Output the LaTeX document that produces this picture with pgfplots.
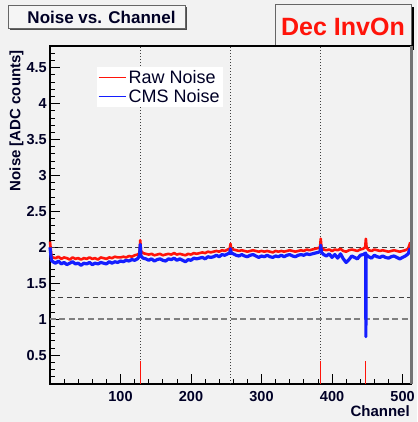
\documentclass[border=0pt]{standalone}
\usepackage{pgfplots}
\pgfplotsset{compat=1.18}
\usepackage{fontspec}
\setmainfont{Liberation Sans}
\definecolor{bgc}{RGB}{242,242,242}
\definecolor{rootred}{RGB}{255,20,10}
\definecolor{rootblue}{RGB}{20,30,255}
\begin{document}
\begin{tikzpicture}
\fill[bgc] (-50pt,-38pt) rectangle (367pt,384pt);
% title box
\fill[black!70] (-40pt,354pt) rectangle (137pt,377pt);
\filldraw[fill=white!96!black,draw=black!60,line width=0.8pt] (-42pt,356pt) rectangle (135pt,379pt);
\node[font=\fontsize{17}{19}\selectfont\bfseries,text=black!85!blue] at (51.5pt,367pt) {Noise vs. Channel};
% Dec InvOn box
\fill[black] (228pt,334pt) rectangle (364pt,377pt);
\filldraw[fill=bgc,draw=black!60,line width=0.8pt] (225pt,337pt) rectangle (361pt,380pt);
\node[font=\fontsize{25}{28}\selectfont\bfseries,text=rootred] at (293pt,357pt) {Dec InvOn};
\begin{axis}[
  at={(0pt,0pt)}, anchor=south west,
  scale only axis, width=361pt, height=338pt,
  xmin=0, xmax=512, ymin=0.1, ymax=4.8,
  clip=false,
  axis background/.style={fill=bgc},
  axis line style={black, line width=1.2pt},
  tick align=inside, xtick pos=left, ytick pos=left,
  xtick={100,200,300,400,500},
  minor xtick={20,40,60,80,120,140,160,180,220,240,260,280,320,340,360,380,420,440,460,480},
  ytick={0.5,1,1.5,2,2.5,3,3.5,4,4.5},
  yticklabels={0.5,1,1.5,2,2.5,3,3.5,4,4.5},
  minor ytick={0.2,0.3,0.4,0.6,0.7,0.8,0.9,1.1,1.2,1.3,1.4,1.6,1.7,1.8,1.9,2.1,2.2,2.3,2.4,2.6,2.7,2.8,2.9,3.1,3.2,3.3,3.4,3.6,3.7,3.8,3.9,4.1,4.2,4.3,4.4,4.6,4.7},
  major tick length=10pt, minor tick length=5pt,
  tick style={black, line width=0.8pt},
  /pgf/number format/assume math mode=true,
  ticklabel style={font=\fontsize{14.5}{16}\selectfont\bfseries, text=black!85!blue},
  xticklabel style={inner sep=0pt, yshift=-7pt},
  yticklabel style={inner sep=0pt, xshift=-3pt},
  xlabel={Channel},
  xlabel style={at={(axis description cs:0.997,-0.097)}, anchor=base east, inner sep=0pt, font=\fontsize{15}{17}\selectfont\bfseries, text=black!85!blue},
  ylabel={Noise [ADC counts]},
  ylabel style={at={(axis description cs:-0.093,0.988)}, anchor=east, inner sep=0pt, font=\fontsize{15}{17}\selectfont\bfseries, text=black!85!blue},
  legend style={at={(0.130,0.938)}, anchor=north west, draw=none, fill=white, inner xsep=1pt, inner ysep=1.5pt,
    font=\fontsize{18}{20}\selectfont, text=black!85!blue, nodes={inner xsep=2.5pt, inner ysep=2pt}},
  legend image code/.code={\draw[#1, line width=1pt] (0pt,0pt) -- (27pt,0pt);},
  legend cell align=left,
]
% grid-like reference lines
\addplot[black!75, line width=0.8pt, dash pattern=on 1pt off 2pt, forget plot] coordinates {(128,0.1) (128,4.8)};
\addplot[black!75, line width=0.8pt, dash pattern=on 1pt off 2pt, forget plot] coordinates {(256,0.1) (256,4.8)};
\addplot[black!75, line width=0.8pt, dash pattern=on 1pt off 2pt, forget plot] coordinates {(384,0.1) (384,4.8)};
\addplot[black!75, line width=0.9pt, dash pattern=on 5pt off 3.5pt, forget plot] coordinates {(0,2) (512,2)};
\addplot[black!75, line width=0.9pt, dash pattern=on 5pt off 3.5pt, forget plot] coordinates {(0,1.3) (512,1.3)};
\addplot[black!50, line width=1.6pt, dash pattern=on 6pt off 3.5pt, forget plot] coordinates {(0,1.0) (512,1.0)};
% red markers at bottom
\addplot[rootred, line width=1pt, forget plot] coordinates {(128,0.1) (128,0.42)};
\addplot[rootred, line width=1pt, forget plot] coordinates {(384,0.1) (384,0.42)};
\addplot[rootred, line width=1pt, forget plot] coordinates {(448,0.1) (448,0.42)};
% Raw noise
\addplot[rootred, line width=2.6pt, line join=round] coordinates {
(0,2.08) (2,1.88) (4,1.86) (8,1.85) (12,1.87) (16,1.84) (20,1.86) (24,1.85) (28,1.83) (32,1.86)
(36,1.84) (40,1.85) (44,1.83) (48,1.85) (52,1.84) (56,1.86) (60,1.84) (64,1.85) (68,1.83) (72,1.86)
(76,1.85) (80,1.84) (84,1.86) (88,1.85) (92,1.87) (96,1.86) (100,1.86) (104,1.87) (108,1.86) (112,1.88)
(116,1.87) (120,1.89) (124,1.90) (127,1.92) (128,2.10) (129,1.95) (132,1.92) (136,1.91) (140,1.90) (144,1.91)
(148,1.89) (152,1.90) (156,1.91) (160,1.89) (164,1.90) (168,1.91) (172,1.90) (176,1.92) (180,1.90) (184,1.91)
(188,1.90) (192,1.89) (196,1.91) (200,1.90) (204,1.92) (208,1.91) (212,1.92) (216,1.93) (220,1.92) (224,1.94)
(228,1.93) (232,1.94) (236,1.95) (240,1.94) (244,1.96) (248,1.95) (252,1.97) (255,1.98) (256,2.05) (257,1.98)
(260,1.97) (264,1.96) (268,1.95) (272,1.96) (276,1.95) (280,1.94) (284,1.95) (288,1.96) (292,1.95) (296,1.94)
(300,1.95) (304,1.94) (308,1.95) (312,1.94) (316,1.93) (320,1.95) (324,1.94) (328,1.95) (332,1.94) (336,1.95)
(340,1.96) (344,1.95) (348,1.94) (352,1.95) (356,1.96) (360,1.95) (364,1.97) (368,1.96) (372,1.97) (376,1.98)
(380,1.99) (383,2.00) (384,2.12) (385,2.00) (388,1.97) (392,1.96) (396,1.97) (400,1.95) (404,1.97) (408,1.96)
(412,1.98) (416,1.95) (420,1.94) (424,1.96) (428,1.97) (432,1.96) (436,1.95) (440,1.97) (444,1.98) (447,2.00)
(448,2.12) (449,2.00) (452,1.96) (456,1.95) (460,1.97) (464,1.96) (468,1.95) (472,1.96) (476,1.95) (480,1.94)
(484,1.95) (488,1.96) (492,1.95) (496,1.94) (500,1.95) (504,1.96) (508,1.98) (511,2.07)
};
\addlegendentry{Raw Noise}
% CMS noise
\addplot[rootblue, line width=3.2pt, line join=round] coordinates {
(0,2.00) (2,1.82) (4,1.80) (8,1.78) (12,1.81) (16,1.77) (20,1.79) (24,1.76) (28,1.78) (32,1.80)
(36,1.77) (40,1.78) (44,1.75) (48,1.78) (52,1.77) (56,1.79) (60,1.76) (64,1.78) (68,1.77) (72,1.79)
(76,1.78) (80,1.77) (84,1.80) (88,1.78) (92,1.80) (96,1.79) (100,1.81) (104,1.80) (108,1.82) (112,1.81)
(116,1.83) (120,1.82) (124,1.84) (127,1.88) (128,2.04) (129,1.88) (132,1.85) (136,1.84) (140,1.82) (144,1.84)
(148,1.81) (152,1.83) (156,1.84) (160,1.82) (164,1.81) (168,1.84) (172,1.83) (176,1.85) (180,1.82) (184,1.84)
(188,1.82) (192,1.80) (196,1.83) (200,1.82) (204,1.85) (208,1.84) (212,1.85) (216,1.86) (220,1.84) (224,1.87)
(228,1.86) (232,1.87) (236,1.89) (240,1.87) (244,1.90) (248,1.89) (252,1.91) (255,1.92) (256,1.98) (257,1.92)
(260,1.91) (264,1.89) (268,1.88) (272,1.90) (276,1.88) (280,1.87) (284,1.89) (288,1.90) (292,1.88) (296,1.86)
(300,1.88) (304,1.87) (308,1.89) (312,1.87) (316,1.86) (320,1.88) (324,1.87) (328,1.89) (332,1.87) (336,1.89)
(340,1.90) (344,1.88) (348,1.87) (352,1.89) (356,1.90) (360,1.89) (364,1.91) (368,1.90) (372,1.91) (376,1.92)
(380,1.93) (383,1.94) (384,2.03) (385,1.93) (388,1.90) (392,1.88) (396,1.91) (400,1.86) (404,1.90) (408,1.85)
(412,1.91) (416,1.84) (420,1.79) (424,1.83) (428,1.88) (432,1.86) (436,1.84) (440,1.89) (444,1.90) (447.8,1.92)
(448,0.76) (448.2,1.90) (452,1.87) (456,1.85) (460,1.89) (464,1.87) (468,1.86) (472,1.88) (476,1.86) (480,1.85)
(484,1.87) (488,1.88) (492,1.86) (496,1.84) (500,1.86) (504,1.88) (508,1.91) (511,1.99)
};
\addlegendentry{CMS Noise}
\draw[black!55, line width=3pt] (rel axis cs:1,0) -- (rel axis cs:1,1);
\end{axis}
\end{tikzpicture}
\end{document}
